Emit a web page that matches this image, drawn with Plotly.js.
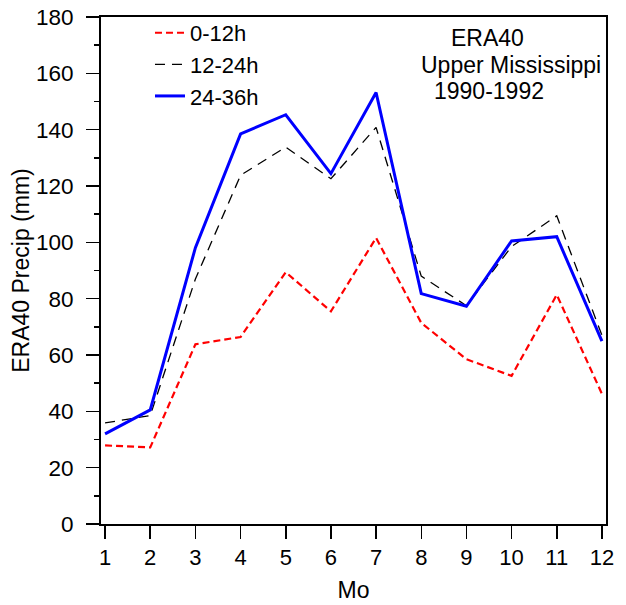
<!DOCTYPE html>
<html>
<head>
<meta charset="utf-8">
<script src="https://cdn.plot.ly/plotly-3.0.1.min.js"></script>
<style>
  html, body { margin: 0; padding: 0; background: #fff; }
  #chart { width: 626px; height: 605px; }
</style>
</head>
<body>
<div id="chart"></div>
<script>
// Monthly mean precipitation (mm), ERA40 forecasts, Upper Mississippi 1990-1992
const months = [1, 2, 3, 4, 5, 6, 7, 8, 9, 10, 11, 12];
const precip0to12 = [27.9, 27.2, 63.8, 66.4, 89.4, 75.5, 101.6, 71.4, 58.5, 52.6, 81.4, 46.2];
const precip12to24 = [35.9, 38.5, 87.0, 123.8, 133.8, 122.6, 140.8, 88.0, 77.5, 98.5, 109.4, 67.0];
const precip24to36 = [32.0, 40.5, 98.1, 138.5, 145.3, 124.4, 153.2, 81.8, 77.3, 100.5, 102.0, 64.9];
const seriesNames = ['0-12h', '12-24h', '24-36h'];
const infoLines = ['ERA40', 'Upper Mississippi', '1990-1992'];

const FONT = 'Arial, "Liberation Sans", sans-serif';

const traces = [
  {
    x: months, y: precip0to12, name: seriesNames[0], mode: 'lines',
    line: { color: '#ff0000', width: 2.2, dash: '7px,4px' }
  },
  {
    x: months, y: precip12to24, name: seriesNames[1], mode: 'lines',
    line: { color: '#000000', width: 1.3, dash: '10px,7px' }
  },
  {
    x: months, y: precip24to36, name: seriesNames[2], mode: 'lines',
    line: { color: '#0000ff', width: 3 }
  }
];

const layout = {
  width: 626,
  height: 605,
  margin: { l: 101, r: 20, t: 14, b: 81 },
  paper_bgcolor: '#ffffff',
  plot_bgcolor: '#ffffff',
  font: { family: FONT, size: 22, color: '#000' },
  showlegend: true,
  legend: {
    x: 0.097, y: 1.01, xanchor: 'left', yanchor: 'top',
    bgcolor: 'rgba(0,0,0,0)', borderwidth: 0,
    font: { family: FONT, size: 22, color: '#000' },
    tracegroupgap: 0
  },
  xaxis: {
    range: [0.91, 12.09],
    tickmode: 'array',
    tickvals: months,
    ticktext: months.map(String),
    ticks: 'outside', ticklen: 13, tickwidth: 1.5, tickcolor: '#000',
    showline: true, linecolor: '#000', linewidth: 2, mirror: true,
    showgrid: false, zeroline: false,
    tickfont: { family: FONT, size: 22 },
    title: { text: 'Mo', font: { family: FONT, size: 23 }, standoff: 12 }
  },
  yaxis: {
    range: [0, 180],
    dtick: 20,
    ticks: 'outside', ticklen: 13, tickwidth: 1.5, tickcolor: '#000',
    ticklabelstandoff: 8,
    minor: { dtick: 10, ticks: 'outside', ticklen: 5, tickwidth: 1.5, tickcolor: '#000', showgrid: false },
    showline: true, linecolor: '#000', linewidth: 2, mirror: true,
    showgrid: false, zeroline: false,
    tickfont: { family: FONT, size: 22.5 },
    title: { text: 'ERA40 Precip (mm)', font: { family: FONT, size: 23 }, standoff: 0 }
  },
  annotations: [
    { text: infoLines[0], xref: 'paper', yref: 'paper', x: 0.766, y: 0.959,
      showarrow: false, xanchor: 'center', yanchor: 'middle', font: { family: FONT, size: 23 } },
    { text: infoLines[1], xref: 'paper', yref: 'paper', x: 0.812, y: 0.906,
      showarrow: false, xanchor: 'center', yanchor: 'middle', font: { family: FONT, size: 23 } },
    { text: infoLines[2], xref: 'paper', yref: 'paper', x: 0.768, y: 0.855,
      showarrow: false, xanchor: 'center', yanchor: 'middle', font: { family: FONT, size: 23 } }
  ]
};

Plotly.newPlot('chart', traces, layout, { displayModeBar: false, staticPlot: true });
</script>
</body>
</html>
